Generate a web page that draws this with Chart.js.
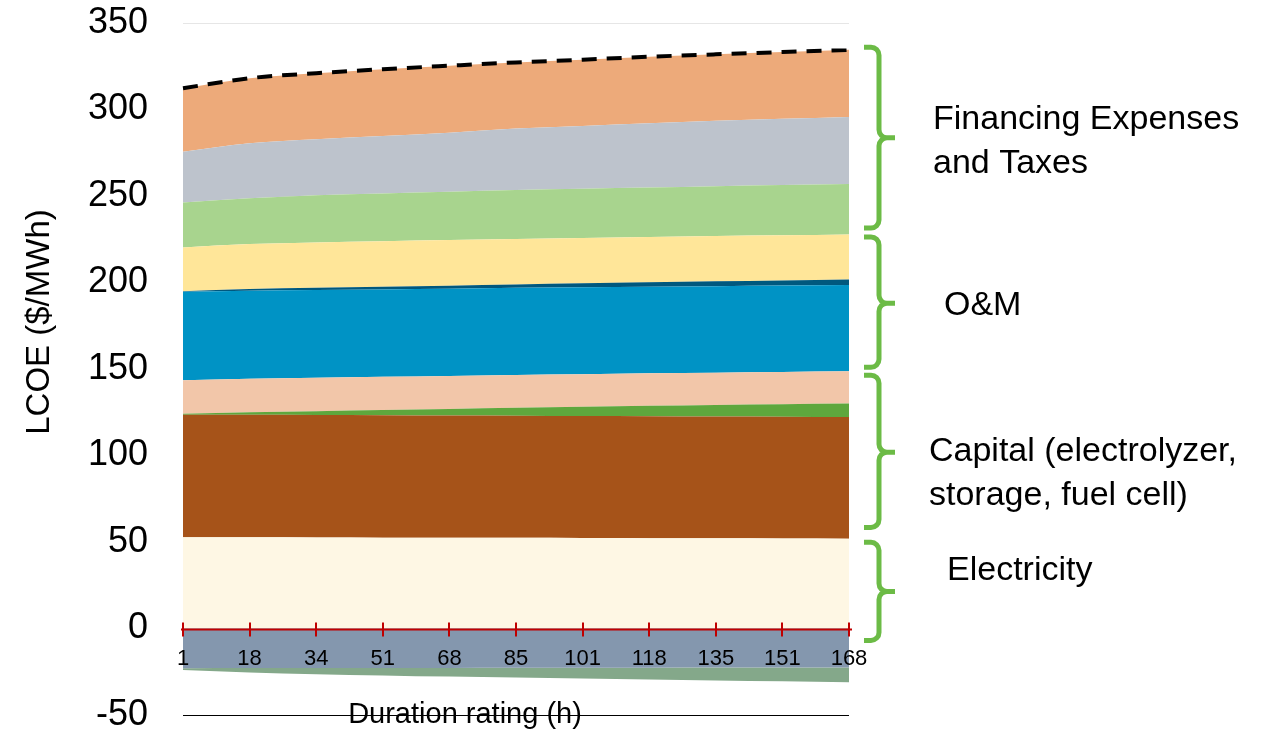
<!DOCTYPE html>
<html>
<head>
<meta charset="utf-8">
<script src="https://cdn.jsdelivr.net/npm/chart.js@4/dist/chart.umd.min.js"></script>
<style>
  html, body { margin: 0; padding: 0; background: #ffffff; }
  #wrap { width: 1271px; height: 730px; position: relative; }
</style>
</head>
<body>
<div id="wrap"><canvas id="lcoe" width="1271" height="730"></canvas></div>
<script>
// Duration ratings (h) on the category axis
const durations = ['1', '18', '34', '51', '68', '85', '101', '118', '135', '151', '168'];

// Cost components, $/MWh (stacked from the bottom up)
const electricity         = [52.8, 52.7, 52.6, 52.5, 52.5, 52.4, 52.3, 52.2, 52.1, 52.0, 51.9];
const electrolyzerCapital = [70.8, 70.8, 70.8, 70.8, 70.6, 70.6, 70.5, 70.5, 70.4, 70.4, 70.3];
const storageCapital      = [0.6, 1.5, 2.2, 3.0, 3.8, 4.6, 5.4, 6.0, 6.7, 7.2, 7.8];
const fuelCellCapital     = [19.3, 19.3, 19.3, 19.2, 19.1, 19.0, 18.8, 18.8, 18.7, 18.7, 18.7];
const fixedOM             = [51.1, 50.9, 50.7, 50.5, 50.4, 50.3, 50.2, 50.0, 50.0, 49.9, 49.8];
const storageOM           = [0.4, 1.0, 1.3, 1.5, 1.7, 1.9, 2.3, 2.6, 2.8, 3.0, 3.3];
const variableOM          = [25.3, 26.0, 26.2, 26.3, 26.4, 26.3, 26.2, 26.2, 26.2, 26.1, 26.0];
const debtInterest        = [26.0, 26.5, 27.4, 27.7, 28.0, 28.4, 28.5, 28.6, 28.8, 29.0, 29.1];
const equityReturn        = [29.3, 31.8, 32.3, 33.2, 34.1, 35.5, 36.3, 37.1, 37.8, 38.3, 38.8];
const incomeTax           = [36.7, 37.6, 38.2, 38.6, 38.7, 38.2, 38.3, 38.5, 38.4, 38.6, 38.8];

// Credits below zero
const depreciationCredit  = [-23.0, -22.9, -22.9, -22.8, -22.8, -22.7, -22.7, -22.7, -22.6, -22.6, -22.6];
const interestCredit      = [-1.0, -2.5, -3.5, -4.3, -5.0, -5.6, -6.2, -6.8, -7.4, -7.9, -8.4];

// Value axis
const yMin = -50, yMax = 350, yStep = 50;

// Group captions beside the braces
const groupLabels = [
  ['Financing Expenses', 'and Taxes'],
  ['O&M'],
  ['Capital (electrolyzer,', 'storage, fuel cell)'],
  ['Electricity']
];

const positiveSeries = [electricity, electrolyzerCapital, storageCapital, fuelCellCapital,
  fixedOM, storageOM, variableOM, debtInterest, equityReturn, incomeTax];
const totalCost = durations.map((_, i) => positiveSeries.reduce((s, arr) => s + arr[i], 0));

// Braces: value span [top, tip, bottom] and caption placement
const braces = [
  { span: [336, 283.6, 231.5], tx: 933, ty: 129 },
  { span: [226.3, 188.0, 151], tx: 944, ty: 315 },
  { span: [146.4, 101.9, 58.4], tx: 929, ty: 461 },
  { span: [49.8, 21.4, -6.9], tx: 947, ty: 580 }
];

function area(label, data, color, fill) {
  return {
    label, data, fill,
    backgroundColor: color,
    borderColor: color,
    borderWidth: 0,
    pointRadius: 0,
    pointHoverRadius: 0,
    cubicInterpolationMode: 'monotone',
    stack: 'cost'
  };
}

const datasets = [
  area('Depreciation credit', depreciationCredit, '#8497AE', 'origin'),
  area('Interest credit', interestCredit, '#84A88A', '-1'),
  area('Electricity', electricity, '#FEF7E4', 'origin'),
  area('Electrolyzer capital', electrolyzerCapital, '#A65319', '-1'),
  area('Storage capital', storageCapital, '#5EA73D', '-1'),
  area('Fuel cell capital', fuelCellCapital, '#F2C6A9', '-1'),
  area('Fixed O&M', fixedOM, '#0093C5', '-1'),
  area('Storage O&M', storageOM, '#00587E', '-1'),
  area('Variable O&M', variableOM, '#FFE699', '-1'),
  area('Debt interest', debtInterest, '#A8D48E', '-1'),
  area('Return on equity', equityReturn, '#BDC3CC', '-1'),
  area('Income tax', incomeTax, '#EDAA7A', '-1'),
  {
    label: 'Total',
    data: totalCost,
    stack: 'total',
    fill: false,
    borderColor: '#000000',
    borderWidth: 4,
    borderDash: [15, 10],
    pointRadius: 0,
    cubicInterpolationMode: 'monotone',
    order: -1
  }
];

const BASE_FONT = '"Liberation Sans", Arial, sans-serif';

// Red zero axis with tick marks crossing it
const zeroAxis = {
  id: 'zeroAxis',
  afterDatasetsDraw(chart) {
    const { ctx, scales: { x, y }, chartArea } = chart;
    const y0 = Math.round(y.getPixelForValue(0)) + 0.5;
    ctx.save();
    ctx.strokeStyle = '#C00000';
    ctx.lineWidth = 2;
    ctx.beginPath();
    ctx.moveTo(chartArea.left - 2, y0);
    ctx.lineTo(chartArea.right + 3, y0);
    for (let i = 0; i < durations.length; i++) {
      const px = Math.round(x.getPixelForTick(i));
      ctx.moveTo(px, y0 - 7);
      ctx.lineTo(px, y0 + 7);
    }
    ctx.stroke();
    ctx.restore();
  }
};

// Axis titles, braces and group captions
const decorations = {
  id: 'decorations',
  afterDraw(chart) {
    const { ctx, scales: { y } } = chart;
    ctx.save();

    // vertical title
    ctx.fillStyle = '#000';
    ctx.font = '33px ' + BASE_FONT;
    ctx.textAlign = 'center';
    ctx.textBaseline = 'alphabetic';
    ctx.translate(49, 322);
    ctx.rotate(-Math.PI / 2);
    ctx.fillText('LCOE ($/MWh)', 0, 0);
    ctx.setTransform(1, 0, 0, 1, 0, 0);

    // horizontal title
    ctx.font = '29px ' + BASE_FONT;
    ctx.fillText('Duration rating (h)', 465, 723);

    // braces
    ctx.strokeStyle = '#6CBB46';
    ctx.lineWidth = 5;
    ctx.lineJoin = 'round';
    const bx = 879, w = 15, r = 8, t = 16;
    braces.forEach(b => {
      const yTop = y.getPixelForValue(b.span[0]);
      const yTip = y.getPixelForValue(b.span[1]);
      const yBot = y.getPixelForValue(b.span[2]);
      ctx.beginPath();
      ctx.moveTo(bx - w, yTop);
      ctx.arcTo(bx, yTop, bx, yTop + r, r);
      ctx.lineTo(bx, yTip - r);
      ctx.arcTo(bx, yTip, bx + r, yTip, r);
      ctx.lineTo(bx + t, yTip);
      ctx.moveTo(bx + r, yTip);
      ctx.arcTo(bx, yTip, bx, yTip + r, r);
      ctx.lineTo(bx, yBot - r);
      ctx.arcTo(bx, yBot, bx - w, yBot, r);
      ctx.lineTo(bx - w, yBot);
      ctx.stroke();
    });

    // captions
    ctx.fillStyle = '#000';
    ctx.font = '34px ' + BASE_FONT;
    ctx.textAlign = 'left';
    ctx.textBaseline = 'alphabetic';
    braces.forEach((b, i) => {
      groupLabels[i].forEach((line, j) => ctx.fillText(line, b.tx, b.ty + j * 44));
    });
    ctx.restore();
  }
};

new Chart(document.getElementById('lcoe'), {
  type: 'line',
  data: { labels: durations, datasets },
  plugins: [zeroAxis, decorations],
  options: {
    responsive: false,
    animation: false,
    devicePixelRatio: 1,
    layout: { padding: { left: 0, right: 422, top: 23, bottom: 15 } },
    plugins: { legend: { display: false }, tooltip: { enabled: false } },
    elements: { line: { borderJoinStyle: 'round' } },
    scales: {
      x: {
        type: 'category',
        offset: false,
        position: { y: 0 },
        grid: { display: false, drawTicks: false },
        border: { display: false },
        ticks: {
          z: 1,
          color: '#000',
          autoSkip: false,
          maxRotation: 0,
          padding: 17,
          font: { family: BASE_FONT, size: 22 }
        }
      },
      y: {
        stacked: true,
        min: yMin,
        max: yMax,
        grid: {
          color: ctx => (ctx.tick && ctx.tick.value === yMin) ? '#000000' : '#E6E6E6',
          lineWidth: 1,
          drawTicks: false
        },
        border: { display: false },
        ticks: {
          stepSize: yStep,
          color: '#000',
          padding: 35,
          font: { family: BASE_FONT, size: 36 }
        },
        afterFit(scale) {
          scale.width = 183;
          scale.paddingTop = 0;
          scale.paddingBottom = 0;
        }
      }
    }
  }
});
</script>
</body>
</html>
